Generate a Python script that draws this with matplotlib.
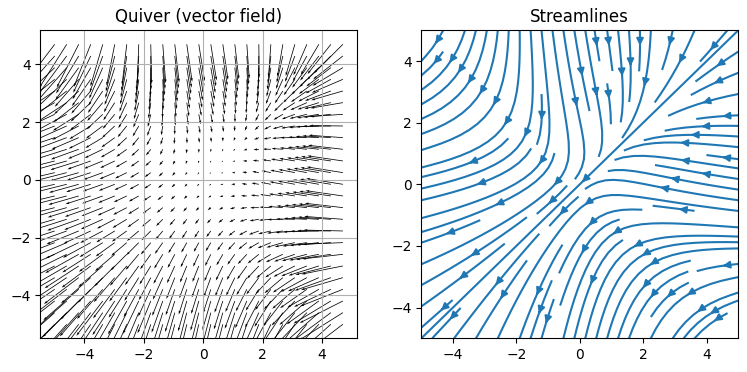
import numpy as np
import matplotlib
matplotlib.use('Agg')
import matplotlib.pyplot as plt

# Grid of the field, the arrows use every 4th point
grid_pos = np.linspace(-5, 5, 100)

# Curved part of the field from the edge (-5) in to the middle, estimated
# from the arrows. It is mirrored at 0 and is the same for both components
bend_half = [25, 24.000, 23.021, 22.062, 21.123, 20.205, 19.307, 18.429, 17.572, 16.736,
             15.919, 15.123, 14.348, 13.593, 12.858, 12.144, 11.450, 10.777, 10.124, 9.491,
             8.879, 8.287, 7.716, 7.165, 6.635, 6.124, 5.635, 5.165, 4.716, 4.288,
             3.880, 3.492, 3.125, 2.778, 2.451, 2.145, 1.860, 1.594, 1.349, 1.125,
             0.921, 0.737, 0.574, 0.431, 0.309, 0.207, 0.125, 0.064, 0.023, 0.003]
drift = -1

bend = np.array(bend_half + bend_half[::-1])
X, Y = np.meshgrid(grid_pos, grid_pos)
bend_x, bend_y = np.meshgrid(bend, bend)
U = drift + Y - bend_x
V = drift + X - bend_y

W, H = 747, 372
fig = plt.figure(figsize=(W / 100, H / 100), dpi=100)
ax1 = fig.add_axes([40.3 / W, 1 - 338.3 / H, 317 / W, 308 / H])
ax2 = fig.add_axes([421.3 / W, 1 - 338.3 / H, 317 / W, 308 / H])

step = 4
ax1.quiver(X[::step, ::step], Y[::step, ::step], U[::step, ::step], V[::step, ::step], scale=200)
ax1.set_title('Quiver (vector field)')
ax1.grid(True)

ax2.streamplot(X, Y, U, V)
ax2.set_title('Streamlines')

fig.savefig('out.png', dpi=100)
